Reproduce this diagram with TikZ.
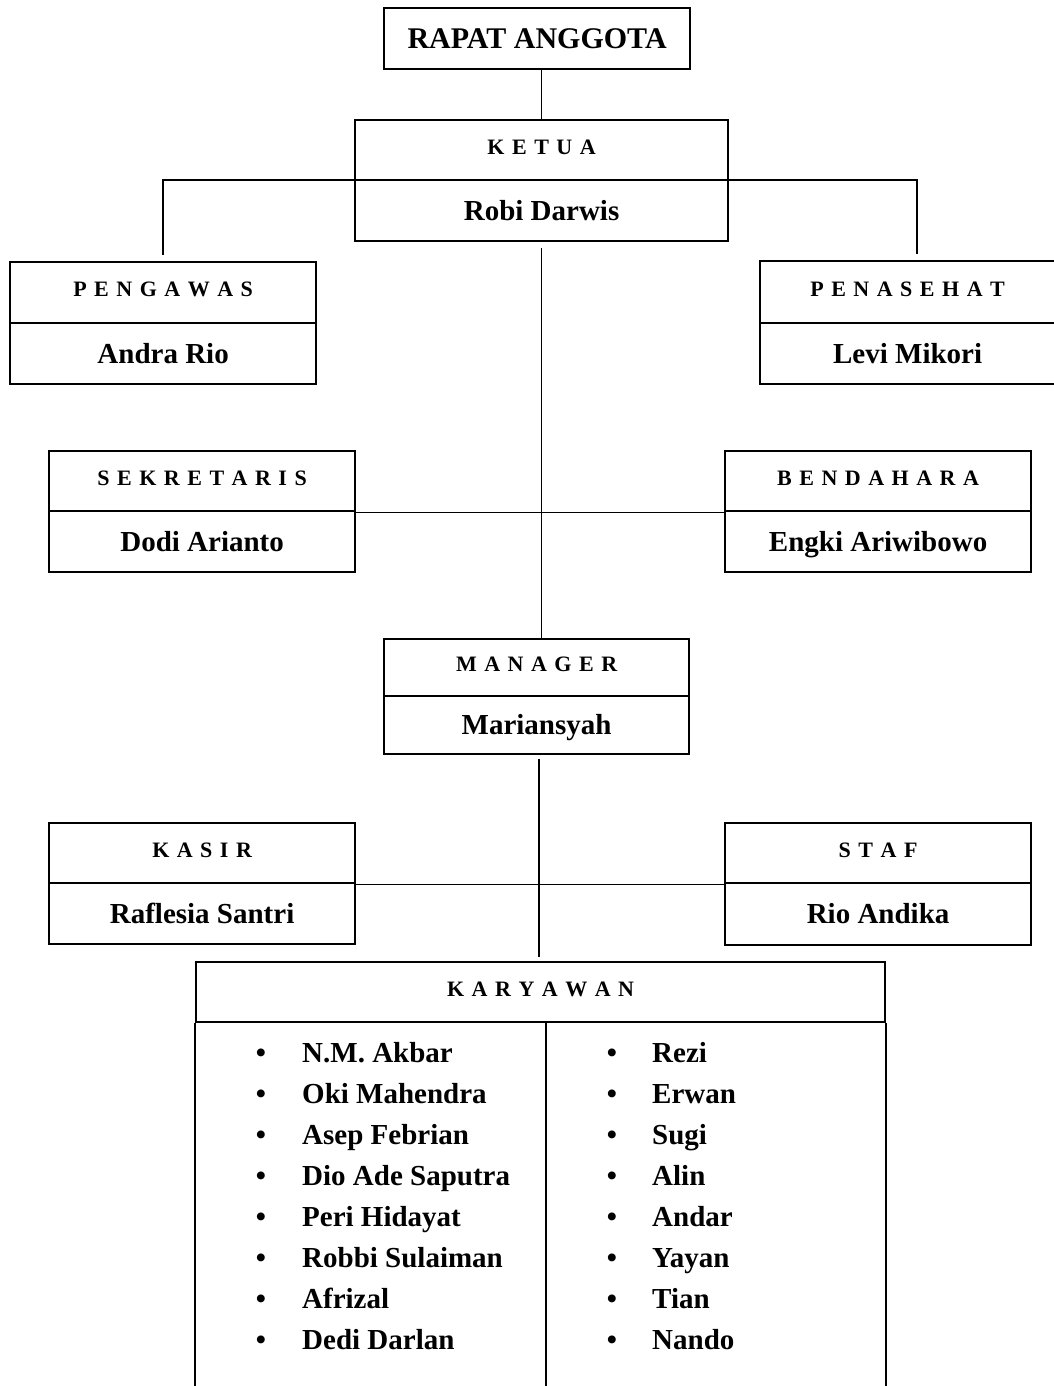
\documentclass[tikz,border=0pt]{standalone}
\usepackage{fontspec}
\setmainfont{Liberation Serif}
\newcommand\spacedlbl[1]{{\spaceskip=7.5pt\relax #1}}
\tikzset{
  boxline/.style={draw=black, line width=2.2pt},
  titlebox/.style={boxline, rectangle, inner sep=0pt, anchor=north west,
    font=\fontsize{22}{26}\selectfont\bfseries,
    text height=14.6pt, text depth=6pt},
  namebox/.style={boxline, rectangle, inner sep=0pt, anchor=north west,
    font=\fontsize{29}{33}\selectfont\bfseries,
    text height=19.2pt, text depth=0pt},
  conn/.style={draw=black, line width=1.2pt},
  item/.style={anchor=base west, inner sep=0pt, font=\fontsize{29}{33}\selectfont\bfseries},
  bul/.style={anchor=base, inner sep=0pt, font=\fontsize{29}{33}\selectfont\bfseries},
}
\begin{document}
\begin{tikzpicture}[x=1pt,y=-1pt]
\useasboundingbox (0,0) rectangle (1053,1386);
\fill[white] (0,0) rectangle (1053,1386);
% boxes
\node[namebox, minimum width=306pt, minimum height=61pt, font=\fontsize{30}{34}\selectfont\bfseries] (rapat) at (383,7) {RAPAT ANGGOTA};
\node[titlebox, minimum width=373pt, minimum height=60pt] (ketuaT) at (354,119) {\spacedlbl{K E T U A}};
\node[namebox, minimum width=373pt, minimum height=61pt] (ketuaN) at (354,179) {Robi Darwis};
\node[titlebox, minimum width=306pt, minimum height=61pt] (pengawasT) at (9,261) {\spacedlbl{P E N G A W A S}};
\node[namebox, minimum width=306pt, minimum height=61pt] (pengawasN) at (9,322) {Andra Rio};
\node[titlebox, minimum width=295pt, minimum height=62pt] (penasehatT) at (759,260) {\spacedlbl{P E N A S E H A T}};
\node[namebox, minimum width=295pt, minimum height=61pt] (penasehatN) at (759,322) {Levi Mikori};
\node[titlebox, minimum width=306pt, minimum height=60pt] (sekT) at (48,450) {\spacedlbl{S E K R E T A R I S}};
\node[namebox, minimum width=306pt, minimum height=61pt] (sekN) at (48,510) {Dodi Arianto};
\node[titlebox, minimum width=306pt, minimum height=60pt] (benT) at (724,450) {\spacedlbl{B E N D A H A R A}};
\node[namebox, minimum width=306pt, minimum height=61pt] (benN) at (724,510) {Engki Ariwibowo};
\node[titlebox, minimum width=305pt, minimum height=57pt] (managerT) at (383,638) {\spacedlbl{M A N A G E R}};
\node[namebox, minimum width=305pt, minimum height=58pt] (managerN) at (383,695) {Mariansyah};
\node[titlebox, minimum width=306pt, minimum height=60pt] (kasirT) at (48,822) {\spacedlbl{K A S I R}};
\node[namebox, minimum width=306pt, minimum height=61pt] (kasirN) at (48,882) {Raflesia Santri};
\node[titlebox, minimum width=306pt, minimum height=60pt] (stafT) at (724,822) {\spacedlbl{S T A F}};
\node[namebox, minimum width=306pt, minimum height=62pt] (stafN) at (724,882) {Rio Andika};
\node[titlebox, minimum width=689pt, minimum height=60pt] (karyT) at (195,961) {\spacedlbl{K A R Y A W A N}};
% karyawan body (open at the bottom)
\coordinate (kd) at (546,1021);
\draw[boxline] (karyT.south west) -- ++(0,370);
\draw[boxline] (karyT.south east) -- ++(0,370);
\draw[draw=black, line width=1.8pt] (kd) -- ++(0,370);
% connectors
\draw[conn] (ketuaT.north |- rapat.south) -- (ketuaT.north);
\coordinate (hl) at (163,180);
\coordinate (hr) at (917,180);
\draw[conn, shorten <=6pt, shorten >=6pt] (pengawasT.north -| hl) -- (hl) -- (hr) -- (penasehatT.north -| hr);
\draw[conn, shorten <=6pt] (ketuaN.south) -- (ketuaN.south |- managerT.north);
\draw[conn] (sekT.south east) -- (benT.south west);
\coordinate (mx) at (539,0);
\draw[conn, shorten <=4pt, shorten >=4pt] (managerN.south -| mx) -- (karyT.north -| mx);
\draw[conn] (kasirT.south east) -- (stafT.south west);
% lists
\foreach \n [count=\i] in {N.M. Akbar, Oki Mahendra, Asep Febrian, Dio Ade Saputra, Peri Hidayat, Robbi Sulaiman, Afrizal, Dedi Darlan} {
  \node[bul] (lb\i) at (261, {1062+41*(\i-1)}) {•};
  \node[item] (l\i) at (302, {1062+41*(\i-1)}) {\n};
}
\foreach \n [count=\i] in {Rezi, Erwan, Sugi, Alin, Andar, Yayan, Tian, Nando} {
  \node[bul] (rb\i) at (612, {1062+41*(\i-1)}) {•};
  \node[item] (r\i) at (652, {1062+41*(\i-1)}) {\n};
}
\end{tikzpicture}
\end{document}
